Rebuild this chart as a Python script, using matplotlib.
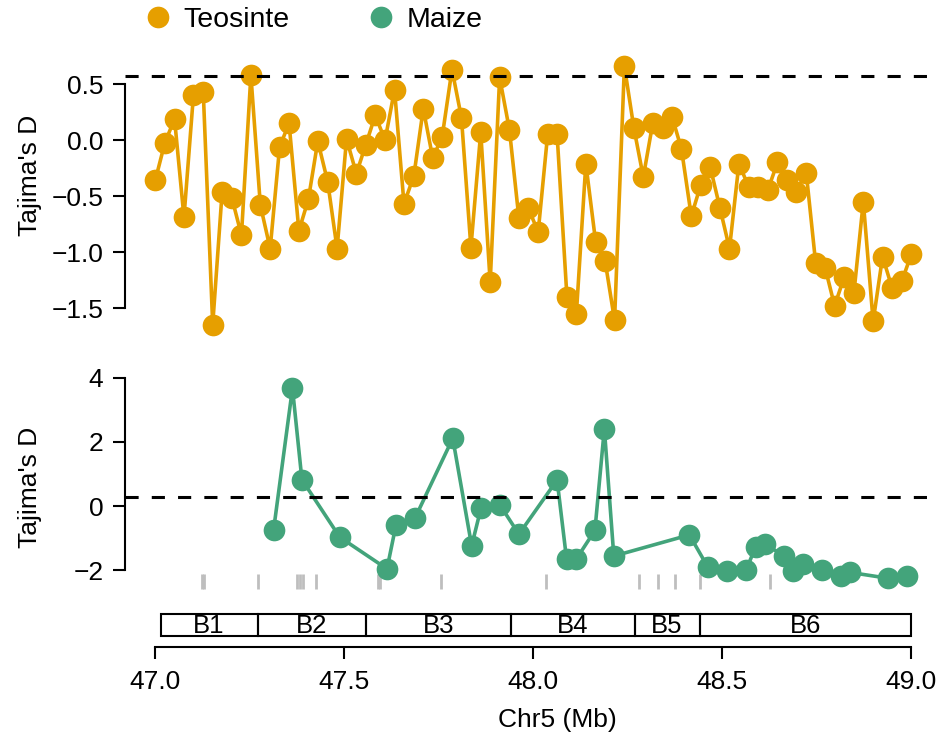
import matplotlib.pyplot as plt
from matplotlib.lines import Line2D
from matplotlib.patches import Rectangle

plt.rcParams['font.family'] = ['Liberation Sans', 'DejaVu Sans']

# Tajima's D in sliding windows along chromosome 5 (position in Mb)
teosinte_pos = [
    47.000, 47.025, 47.051, 47.076, 47.101, 47.127, 47.152, 47.177, 47.203, 47.228,
    47.253, 47.278, 47.304, 47.329, 47.354, 47.380, 47.405, 47.430, 47.456, 47.481,
    47.506, 47.532, 47.557, 47.582, 47.608, 47.633, 47.658, 47.684, 47.709, 47.734,
    47.759, 47.785, 47.810, 47.835, 47.861, 47.886, 47.911, 47.937, 47.962, 47.987,
    48.013, 48.038, 48.063, 48.089, 48.114, 48.139, 48.165, 48.190, 48.215, 48.241,
    48.266, 48.291, 48.316, 48.342, 48.367, 48.392, 48.418, 48.443, 48.468, 48.494,
    48.519, 48.544, 48.570, 48.595, 48.620, 48.646, 48.671, 48.696, 48.722, 48.747,
    48.772, 48.797, 48.823, 48.848, 48.873, 48.899, 48.924, 48.949, 48.975, 49.000,
]
teosinte_d = [
    -0.36, -0.03, 0.19, -0.69, 0.40, 0.43, -1.65, -0.46, -0.52, -0.85,
    0.58, -0.58, -0.97, -0.06, 0.15, -0.81, -0.53, -0.01, -0.37, -0.97,
    0.01, -0.30, -0.04, 0.22, 0.00, 0.45, -0.57, -0.32, 0.28, -0.16,
    0.03, 0.63, 0.20, -0.96, 0.07, -1.27, 0.56, 0.09, -0.70, -0.61,
    -0.82, 0.05, 0.05, -1.40, -1.55, -0.21, -0.91, -1.08, -1.61, 0.66,
    0.11, -0.33, 0.15, 0.11, 0.21, -0.08, -0.68, -0.40, -0.24, -0.61,
    -0.97, -0.21, -0.42, -0.42, -0.45, -0.20, -0.36, -0.46, -0.29, -1.10,
    -1.14, -1.48, -1.22, -1.37, -0.55, -1.62, -1.04, -1.32, -1.26, -1.02,
]

maize_pos = [
    47.313, 47.363, 47.388, 47.488, 47.613, 47.637, 47.687, 47.787, 47.837, 47.862,
    47.912, 47.962, 48.063, 48.088, 48.114, 48.163, 48.188, 48.213, 48.413, 48.462,
    48.513, 48.563, 48.588, 48.613, 48.663, 48.688, 48.713, 48.763, 48.813, 48.838,
    48.937, 48.988,
]
maize_d = [
    -0.75, 3.67, 0.82, -0.97, -1.96, -0.58, -0.38, 2.11, -1.24, -0.05,
    0.03, -0.88, 0.81, -1.65, -1.65, -0.76, 2.41, -1.56, -0.90, -1.91,
    -2.03, -2.00, -1.27, -1.19, -1.55, -2.02, -1.81, -1.99, -2.18, -2.07,
    -2.25, -2.18,
]

# significance thresholds
teosinte_cutoff = 0.57
maize_cutoff = 0.29

# gene positions (Mb)
gene_pos = [47.124, 47.130, 47.272, 47.374, 47.382, 47.390, 47.425, 47.589, 47.595,
            47.755, 48.033, 48.280, 48.331, 48.374, 48.442, 48.625]

# haplotype blocks
block_names = ['B1', 'B2', 'B3', 'B4', 'B5', 'B6']
block_edges = [47.014, 47.271, 47.557, 47.941, 48.268, 48.440, 48.998]

teo_col = '#E69F00'
mz_col = '#43A47B'
fs = 19

W, H = 947, 744
fig = plt.figure(figsize=(W / 100, H / 100), dpi=100)


def frame(top, bottom):
    return [125 / W, 1 - bottom / H, (934 - 125) / W, (bottom - top) / H]


xlim = (46.92, 49.06)

ax1 = fig.add_axes(frame(55, 336))
ax2 = fig.add_axes(frame(370, 600))
ax3 = fig.add_axes(frame(605, 647))

for ax in (ax1, ax2, ax3):
    ax.set_xlim(*xlim)
    for s in ('top', 'right'):
        ax.spines[s].set_visible(False)
    ax.tick_params(labelsize=fs, width=1.5, length=8.5, pad=7, colors='black')
    ax.spines['left'].set_linewidth(1.5)
    ax.spines['bottom'].set_linewidth(1.5)

# top panel: teosinte
ax1.plot(teosinte_pos, teosinte_d, '-o', color=teo_col, lw=2.6, ms=15.6, mew=0)
ax1.axhline(teosinte_cutoff, color='black', lw=2.2, ls=(0, (4.3, 4.3)))
ax1.set_ylim(-1.75, 0.76)
ax1.set_yticks([-1.5, -1.0, -0.5, 0.0, 0.5])
ax1.set_yticklabels(['\u22121.5', '\u22121.0', '\u22120.5', '0.0', '0.5'])
ax1.spines['left'].set_bounds(-1.5, 0.5)
ax1.spines['bottom'].set_visible(False)
ax1.set_xticks([])

# bottom panel: maize, with gene rug
ax2.vlines(gene_pos, -2.59, -2.13, color='#BEBEBE', lw=2)
ax2.plot(maize_pos, maize_d, '-o', color=mz_col, lw=2.6, ms=15.6, mew=0)
ax2.axhline(maize_cutoff, color='black', lw=2.2, ls=(0, (4.3, 4.3)))
ax2.set_ylim(-2.93, 4.24)
ax2.set_yticks([-2, 0, 2, 4])
ax2.set_yticklabels(['\u22122', '0', '2', '4'])
ax2.spines['left'].set_bounds(-2, 4)
ax2.spines['bottom'].set_visible(False)
ax2.set_xticks([])

# block track and x axis
ax3.set_ylim(0, 1)
ax3.spines['left'].set_visible(False)
ax3.set_yticks([])
for name, a, b in zip(block_names, block_edges[:-1], block_edges[1:]):
    ax3.add_patch(Rectangle((a, 0.262), b - a, 0.524, fill=False,
                            edgecolor='black', lw=1.5))
    ax3.text((a + b) / 2, 0.51, name, ha='center', va='center', fontsize=18.5,
             fontstretch='condensed')
ax3.set_xticks([47.0, 47.5, 48.0, 48.5, 49.0])
ax3.set_xticklabels(['47.0', '47.5', '48.0', '48.5', '49.0'])
ax3.spines['bottom'].set_bounds(47.0, 49.0)
ax3.tick_params(axis='x', pad=8)

fig.text(30 / W, 1 - 175 / H, "Tajima's D", rotation=90, ha='center', va='center', fontsize=fs)
fig.text(30 / W, 1 - 487 / H, "Tajima's D", rotation=90, ha='center', va='center', fontsize=fs)
fig.text(557 / W, 1 - 720 / H, 'Chr5 (Mb)', ha='center', va='center', fontsize=fs)

handles = [Line2D([], [], ls='none', marker='o', ms=15.6, mew=0, color=teo_col),
           Line2D([], [], ls='none', marker='o', ms=15.6, mew=0, color=mz_col)]
fig.legend(handles, ['Teosinte', 'Maize'], loc='center left',
           bbox_to_anchor=(144 / W, 1 - 20 / H), ncol=2, frameon=False,
           fontsize=20.5, handlelength=1.0, handletextpad=0.4, columnspacing=2.7,
           borderpad=0, borderaxespad=0)

fig.savefig('out.png', dpi=100)
